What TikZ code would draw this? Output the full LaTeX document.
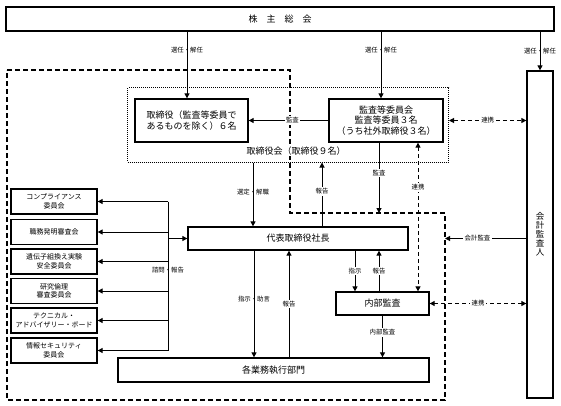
\documentclass[tikz,border=0pt]{standalone}
\usepackage{fontspec}
\setmainfont{Noto Sans CJK JP}
\usepackage{tikz}
\usetikzlibrary{arrows.meta, positioning}
\tikzstyle{caja} = [draw, line width=1.3pt, align=center, inner sep=0pt, font=\fontsize{9}{10.5}\selectfont]
\tikzstyle{comite} = [caja, minimum width=86pt, minimum height=25pt, font=\fontsize{7}{8.5}\selectfont]
\tikzstyle{flecha} = [-{Triangle[length=5pt,width=5pt]}, line width=1pt]
\tikzstyle{enlace} = [{Triangle[length=5pt,width=5pt]}-{Triangle[length=5pt,width=5pt]}, line width=1pt, dash pattern=on 4pt off 3pt]
\tikzstyle{etiqueta} = [fill=white, inner sep=1.5pt, font=\fontsize{6.4}{7}\selectfont]
\tikzstyle{rotulo} = [inner sep=1pt, font=\fontsize{6.4}{7}\selectfont]

\begin{document}
\begin{tikzpicture}[x=1pt, y=-1pt]
	\useasboundingbox (0,0) rectangle (561,406);
	% recuadro discontinuo
	\draw[line width=1.2pt, dash pattern=on 5pt off 3pt] (7,70) -- (290,70) -- (290,213) -- (445,213) -- (445,400) -- (7,400) -- cycle;
	\coordinate (borde) at (445,213);
	
	\node[caja, minimum width=548pt, minimum height=24pt] (soukai) at (280,19) {株　主　総　会};
	\node[draw, line width=1pt, dash pattern=on 1pt off 1pt, minimum width=321pt, minimum height=74pt] (torikai) at (288,125) {};
	\node[caja, minimum width=113pt, minimum height=43pt] (torishimari) at (191.5,120.5) {取締役（監査等委員で\\あるものを除く）６名};
	\node[caja, minimum width=114pt, minimum height=43pt] (kansa) at (386,120.5) {監査等委員会\\監査等委員３名\\（うち社外取締役３名）};
	\node[fill=white, inner sep=1pt, font=\fontsize{9}{10.5}\selectfont] (torikaiLabel) at (296,151) {取締役会（取締役９名）};
	\node[caja, minimum width=26pt, minimum height=327pt, font=\fontsize{8.5}{9}\selectfont] (kaikei) at (540,234.5) {会\\計\\監\\査\\人};
	\node[caja, minimum width=220pt, minimum height=23pt] (daihyo) at (298,238.5) {代表取締役社長};
	\node[caja, minimum width=93pt, minimum height=23pt] (naibu) at (382.5,303.5) {内部監査};
	\node[caja, minimum width=311pt, minimum height=24pt] (gyomu) at (273.5,370) {各業務執行部門};
	
	\node[comite] (c1) at (54,201.5) {コンプライアンス\\委員会};
	\node[comite] (c2) at (54,232) {職務発明審査会};
	\node[comite] (c3) at (54,261.5) {遺伝子組換え実験\\安全委員会};
	\node[comite] (c4) at (54,291) {研究倫理\\審査委員会};
	\node[comite] (c5) at (54,320.5) {テクニカル・\\アドバイザリー・ボード};
	\node[comite] (c6) at (54,350.5) {情報セキュリティ\\委員会};
	
	% posiciones de las flechas verticales
	\coordinate (xa) at (187,0);
	\coordinate (xb) at (381,0);
	\coordinate (xc) at (253,0);
	\coordinate (xd) at (322,0);
	\coordinate (xe) at (379,0);
	\coordinate (xf) at (418,0);
	\coordinate (xg) at (355,0);
	\coordinate (xh) at (254,0);
	\coordinate (xi) at (289,0);
	\coordinate (bus) at (168,0);
	
	\draw[flecha] (xa |- soukai.south) -- (xa |- torishimari.north);
	\draw[flecha] (xb |- soukai.south) -- (xb |- kansa.north);
	\draw[flecha] (soukai.south -| kaikei.north) -- (kaikei.north);
	\node[rotulo] at (187,50) {選任・解任};
	\node[rotulo] at (381,50) {選任・解任};
	\node[rotulo] at (540,51) {選任・解任};
	
	\draw[flecha] (kansa.west) -- (torishimari.east) node[etiqueta, pos=0.45] {監査};
	\draw[enlace] (torikai.east |- kansa.east) -- (kaikei.west |- kansa.east) node[etiqueta, midway] {連携};
	
	\draw[flecha] (xc |- torikai.south) -- (xc |- daihyo.north);
	\node[rotulo] at (253,192) {選定・解職};
	\draw[flecha] (xd |- daihyo.north) -- (xd |- torikai.south) node[etiqueta, pos=0.55] {報告};
	\draw[flecha] (xe |- kansa.south) -- (xe |- borde) node[etiqueta, pos=0.43] {監査};
	\draw[enlace] (xf |- kansa.south) -- (xf |- naibu.north) node[etiqueta, pos=0.3] {連携};
	
	\draw[flecha] (kaikei.west |- daihyo.east) -- (borde |- daihyo.east) node[etiqueta, pos=0.6] {会計監査};
	\draw[flecha] (xg |- daihyo.south) -- (xg |- naibu.north) node[etiqueta, midway] {指示};
	\draw[flecha] (xe |- naibu.north) -- (xe |- daihyo.south) node[etiqueta, midway] {報告};
	\draw[enlace] (naibu.east) -- (kaikei.west |- naibu.east) node[etiqueta, midway] {連携};
	\draw[flecha] (naibu.south) -- (naibu.south |- gyomu.north) node[etiqueta, pos=0.4] {内部監査};
	
	\draw[flecha] (xh |- daihyo.south) -- (xh |- gyomu.north);
	\node[rotulo] at (254,299) {指示・助言};
	\draw[flecha] (xi |- gyomu.north) -- (xi |- daihyo.south) node[etiqueta, midway] {報告};
	
	% comites
	\draw[line width=1pt] (c1.east -| bus) -- (c6.east -| bus);
	\draw[flecha] (c1.east -| bus) -- (c1.east);
	\draw[flecha] (c2.east -| bus) -- (c2.east);
	\draw[flecha] (c3.east -| bus) -- (c3.east);
	\draw[flecha] (c4.east -| bus) -- (c4.east);
	\draw[flecha] (c5.east -| bus) -- (c5.east);
	\draw[flecha] (c6.east -| bus) -- (c6.east);
	\draw[flecha] (daihyo.west -| bus) -- (daihyo.west);
	\node[rotulo] at (168,270) {諮問・報告};
\end{tikzpicture}
\end{document}
